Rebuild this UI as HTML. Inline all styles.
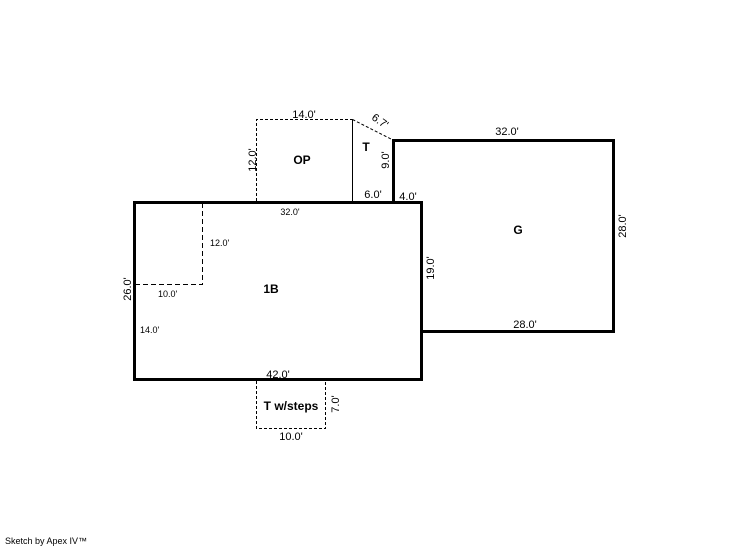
<!DOCTYPE html>
<html><head><style>
html,body{margin:0;padding:0;background:#fff;width:746px;height:547px;overflow:hidden}
svg text{font-family:"Liberation Sans",sans-serif;fill:#000}
</style></head><body>
<svg width="746" height="547" viewBox="0 0 746 547">
<g fill="none" stroke="#000">
<rect x="134.5" y="202.5" width="287" height="177" stroke-width="3"/>
<polyline points="393.5,202 393.5,140.5 613.5,140.5 613.5,331.5 421,331.5" stroke-width="3"/>
<polyline points="202.5,203 202.5,284.5 135,284.5" stroke-width="1" stroke-dasharray="5,3"/>
<polyline points="256.5,201 256.5,119.5 352.5,119.5" stroke-width="1" stroke-dasharray="3,2"/>
<line x1="352.5" y1="119.5" x2="352.5" y2="201" stroke-width="1"/>
<line x1="352.5" y1="119.5" x2="392" y2="139.5" stroke-width="1" stroke-dasharray="3,2"/>
<polyline points="256.5,381 256.5,428.5 325.5,428.5 325.5,381" stroke-width="1" stroke-dasharray="3,2"/>
</g>
<g font-size="11">
<text x="304" y="118" text-anchor="middle">14.0'</text>
<text x="290" y="215" text-anchor="middle" font-size="9">32.0'</text>
<text x="210" y="246" font-size="9">12.0'</text>
<text x="158" y="297" font-size="9">10.0'</text>
<text x="140" y="333" font-size="9">14.0'</text>
<text x="373" y="198" text-anchor="middle">6.0'</text>
<text x="408" y="200" text-anchor="middle">4.0'</text>
<text x="507" y="135" text-anchor="middle">32.0'</text>
<text x="525" y="328" text-anchor="middle">28.0'</text>
<text x="278" y="378" text-anchor="middle">42.0'</text>
<text x="291" y="440" text-anchor="middle">10.0'</text>
<text transform="translate(256,160) rotate(-90)" text-anchor="middle">12.0'</text>
<text transform="translate(131,289) rotate(-90)" text-anchor="middle">26.0'</text>
<text transform="translate(434,268) rotate(-90)" text-anchor="middle">19.0'</text>
<text transform="translate(626,226) rotate(-90)" text-anchor="middle">28.0'</text>
<text transform="translate(389,160) rotate(-90)" text-anchor="middle">9.0'</text>
<text transform="translate(339,404) rotate(-90)" text-anchor="middle">7.0'</text>
<text transform="translate(378,124) rotate(35)" text-anchor="middle">6.7'</text>
</g>
<g font-size="12" font-weight="bold">
<text x="302" y="164" text-anchor="middle">OP</text>
<text x="366" y="151" text-anchor="middle">T</text>
<text x="518" y="234" text-anchor="middle">G</text>
<text x="271" y="293" text-anchor="middle">1B</text>
<text x="291" y="410" text-anchor="middle">T w/steps</text>
</g>
<text x="5" y="544" font-size="9">Sketch by Apex IV™</text>
</svg>
</body></html>
